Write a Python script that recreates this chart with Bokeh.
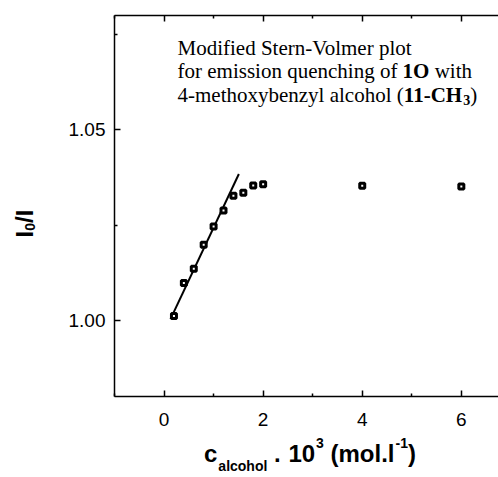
from math import pi
from bokeh.plotting import figure
from bokeh.layouts import row
from bokeh.models import LinearAxis, FixedTicker, Label, Range1d, PrintfTickFormatter
from bokeh.embed import file_html
from bokeh.resources import INLINE

# data
conc = [0.2, 0.4, 0.6, 0.8, 1.0, 1.2, 1.4, 1.6, 1.8, 2.0, 4.0, 6.0]
ratio = [1.0011, 1.0098, 1.0135, 1.0198, 1.0246, 1.0288, 1.0327, 1.0335, 1.0354, 1.0357, 1.0353, 1.0351]
fit_x = [0.13, 1.51]
fit_y = [1.0003, 1.0384]
x_ticks = [0, 2, 4, 6]
x_minor = [-1, 1, 3, 5]
y_ticks = [1.00, 1.05]
y_minor = [0.975, 1.025, 1.075]

X0, X1 = -1.0, 6.75
FRAME_LEFT, FRAME_W = 114, 384

p = figure(width=442, height=477, x_range=Range1d(X0, X1), y_range=Range1d(0.98, 1.08),
           output_backend="svg", toolbar_location=None,
           min_border_left=58, min_border_right=0, min_border_top=15, min_border_bottom=81,
           x_axis_type=None, y_axis_type=None)
p.outline_line_color = None
p.background_fill_color = "white"
p.border_fill_color = "white"


def style(ax):
    ax.axis_line_width = 1.5
    ax.axis_line_color = "black"
    ax.major_tick_line_width = 1.5
    ax.major_tick_line_color = "black"
    ax.minor_tick_line_width = 1.5
    ax.minor_tick_line_color = "black"
    ax.major_tick_in = 6
    ax.major_tick_out = 0
    ax.minor_tick_in = 3
    ax.minor_tick_out = 0
    ax.major_label_text_font = "Liberation Sans"
    ax.major_label_text_color = "black"
    ax.major_label_text_font_size = "19px"


xb = LinearAxis(ticker=FixedTicker(ticks=x_ticks, minor_ticks=x_minor))
style(xb)
xb.major_label_standoff = 16
p.add_layout(xb, "below")

xt = LinearAxis(ticker=FixedTicker(ticks=x_ticks, minor_ticks=x_minor))
style(xt)
xt.major_label_text_font_size = "1px"
xt.major_label_text_color = None
xt.major_label_standoff = 0
p.add_layout(xt, "above")

yl = LinearAxis(ticker=FixedTicker(ticks=y_ticks, minor_ticks=y_minor),
                formatter=PrintfTickFormatter(format="%.2f"))
style(yl)
yl.major_label_standoff = 9
p.add_layout(yl, "left")

p.line(fit_x, fit_y, line_color="black", line_width=2)
p.scatter(conc, ratio, marker="square", size=5, line_color="black", line_width=3,
          fill_color="white")


def lab(fig, x, y, text, size, bold=False, font="Liberation Serif", angle=0.0):
    fig.add_layout(Label(x=x, y=y, x_units="screen", y_units="screen", text=text,
                         text_font=font, text_font_size=f"{size}px",
                         text_font_style="bold" if bold else "normal",
                         text_color="black", text_baseline="alphabetic",
                         text_align="left", angle=angle))


# annotation inside the frame
DY = 8
lab(p, 63, 341 + DY, "Modified Stern-Volmer plot", 21)
lab(p, 63, 317.5 + DY, "for emission quenching of", 21)
lab(p, 288.1, 317.5 + DY, "1O", 21, bold=True)
lab(p, 320.2, 317.5 + DY, "with", 21)
lab(p, 63, 294 + DY, "4-methoxybenzyl alcohol (", 21)
lab(p, 289.3, 294 + DY, "11-CH", 21, bold=True)
lab(p, 348.8, 289 + DY, "3", 14, bold=True)
lab(p, 355.8, 294 + DY, ")", 21)

# x axis title, built from label rows of extra (invisible) axes
W = {'c': 556, 'a': 556, 'l': 278, 'o': 611, 'h': 611, '.': 278, ' ': 278, '1': 556,
     '0': 556, '3': 556, '(': 333, 'm': 889, ')': 333, '-': 333}
MAIN, SMALL = 24, 14
pieces = [("c", MAIN, "main"), ("alcohol", SMALL, "sub"), (" ", MAIN, None), (".", MAIN, "main"),
          (" ", MAIN, None), ("10", MAIN, "main"), ("3", SMALL, "sup"), (" ", MAIN, None),
          ("(mol.l", MAIN, "main"), ("-1", SMALL, "sup"), (")", MAIN, "main")]
total = sum(sum(W[ch] for ch in t) * fs / 1000.0 + (1 if k == "main" else 0) for t, fs, k in pieces)
rows = {"main": {}, "sup": {}, "sub": {}}
cur = 310.0 - total / 2
for txt, fs, kind in pieces:
    w = sum(W[ch] for ch in txt) * fs / 1000.0
    if kind is not None:
        cx = cur + w / 2
        xv = round((cx - FRAME_LEFT) * (X1 - X0) / FRAME_W + X0, 4)
        rows[kind][xv] = txt
    cur += w + (1 if kind == "main" else 0)


def title_axis(entries, fs, standoff):
    ticks = list(entries.keys())
    ax = LinearAxis(ticker=FixedTicker(ticks=ticks, minor_ticks=[]),
                    major_label_overrides=dict(entries))
    ax.axis_line_color = None
    ax.major_tick_line_color = None
    ax.minor_tick_line_color = None
    ax.major_tick_in = 0
    ax.major_tick_out = 0
    ax.minor_tick_in = 0
    ax.minor_tick_out = 0
    ax.major_label_text_font = "Liberation Sans"
    ax.major_label_text_font_style = "bold"
    ax.major_label_text_font_size = f"{fs}px"
    ax.major_label_text_color = "black"
    ax.major_label_standoff = standoff
    p.add_layout(ax, "below")


title_axis(rows["sup"], SMALL, 9)
title_axis(rows["main"], MAIN, -11)
title_axis(rows["sub"], SMALL, -12)

# y axis title in a narrow strip on the left (its frame aligns with the main frame)
s = figure(width=56, height=477, x_range=Range1d(0, 1), y_range=Range1d(0, 1),
           output_backend="svg", toolbar_location=None, min_border=0,
           x_axis_type=None, y_axis_type=None)
s.outline_line_color = None
s.grid.visible = False
S = "Liberation Sans"
lab(s, 24, 159, "I", 24, True, S, angle=pi / 2)
lab(s, 29, 165.7, "0", 14, True, S, angle=pi / 2)
lab(s, 24, 173.5, "/I", 24, True, S, angle=pi / 2)

layout = row(s, p, spacing=0)
open("out.html", "w").write(file_html(layout, INLINE))
